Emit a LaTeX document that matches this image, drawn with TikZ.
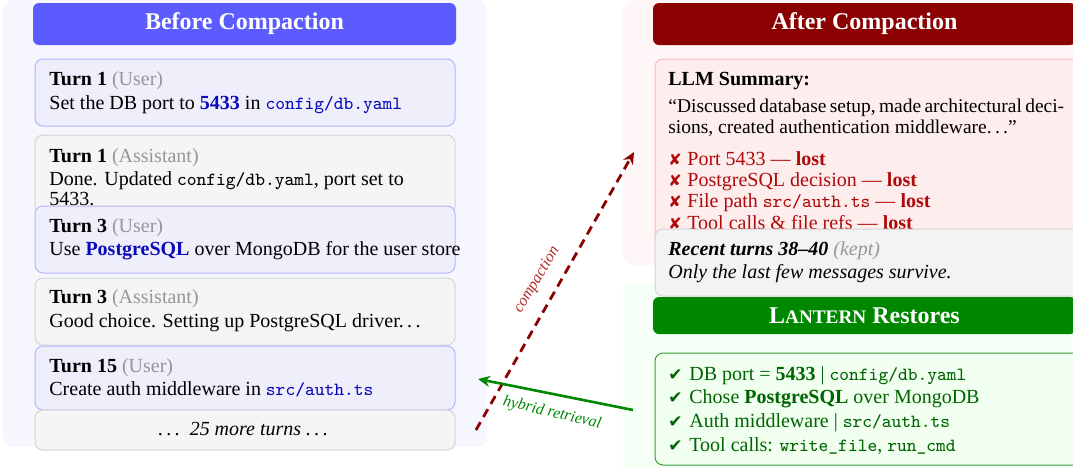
\documentclass[tikz,border=0pt]{standalone}
\usepackage{fontspec}
\setmainfont{Liberation Serif}
\newfontfamily\symfont{DejaVu Sans}
\usetikzlibrary{arrows.meta}
\definecolor{panelL}{RGB}{246,246,255}
\definecolor{hdrblue}{RGB}{91,91,255}
\definecolor{userfill}{RGB}{239,239,252}
\definecolor{userdraw}{RGB}{180,180,255}
\definecolor{asstfill}{RGB}{245,245,245}
\definecolor{asstdraw}{RGB}{212,212,212}
\definecolor{hlc}{RGB}{10,10,185}
\definecolor{lbl}{RGB}{150,150,150}
\definecolor{panelR}{RGB}{255,247,247}
\definecolor{hdrred}{RGB}{139,0,0}
\definecolor{sumfill}{RGB}{253,237,237}
\definecolor{sumdraw}{RGB}{255,185,185}
\definecolor{lostred}{RGB}{175,10,10}
\definecolor{recfill}{RGB}{243,243,243}
\definecolor{panelG}{RGB}{246,255,246}
\definecolor{hdrgreen}{RGB}{0,135,0}
\definecolor{resfill}{RGB}{240,255,240}
\definecolor{resdraw}{RGB}{60,160,60}
\definecolor{restext}{RGB}{0,100,0}
\definecolor{arrred}{RGB}{139,0,0}
\definecolor{lblred}{RGB}{180,40,40}
\definecolor{arrgreen}{RGB}{0,135,0}
\newcommand\code[1]{{\ttfamily\fontsize{9.3}{12}\selectfont #1}}
\newcommand\chk{\makebox[8pt][l]{\symfont\fontsize{8.5}{12}\selectfont ✔}}
\newcommand\crs{\makebox[7pt][l]{\symfont\fontsize{8}{12}\selectfont ✘}}
\newcommand\dts{.\kern.17em.\kern.17em.}
\begin{document}
\begin{tikzpicture}[x=0.5pt,y=-0.5pt,
  panel/.style={rounded corners=5pt},
  box/.style={rounded corners=4pt, line width=0.5pt},
  hdr/.style={rounded corners=3pt, text=white, font=\large\bfseries, inner sep=0pt, minimum width=211.5pt},
  txt/.style={anchor=base west, inner sep=0pt},
  arrlbl/.style={font=\footnotesize\itshape, inner sep=0pt}]
\clip (0,0) rectangle (1073,467);
% panels
\fill[panelL, panel] (3,0) rectangle (487,447);
\fill[panelR, panel] (623,0) rectangle (1090,265);
\fill[panelG, panel] (623,283) rectangle (1090,490);
% ---- Before ----
\node[hdr, fill=hdrblue, minimum height=21pt] (hb) at (244.5,24) {Before Compaction};
\draw[box, fill=userfill, draw=userdraw] (35,59) rectangle (455,126);
\node[txt] (t1u) at (49,85) {\textbf{Turn 1} \textcolor{lbl}{(User)}};
\node[txt] (t1ub) at (49,109) {Set the DB port to \textcolor{hlc}{\textbf{5433}} in \textcolor{hlc}{\code{config/db.yaml}}};
\draw[box, fill=asstfill, draw=asstdraw] (35,135) rectangle (455,215);
\node[txt] (t1a) at (49,162) {\textbf{Turn 1} \textcolor{lbl}{(Assistant)}};
\node[txt] (t1ab) at (49,185) {Done. Updated \code{config/db.yaml}, port set to};
\node[txt] (t1ac) at (49,205) {5433.};
\draw[box, fill=userfill, draw=userdraw] (35,206) rectangle (455,273);
\node[txt] (t3u) at (49,232) {\textbf{Turn 3} \textcolor{lbl}{(User)}};
\node[txt] (t3ub) at (49,255) {Use \textcolor{hlc}{\textbf{PostgreSQL}} over MongoDB for the user store};
\draw[box, fill=asstfill, draw=asstdraw] (35,278) rectangle (455,345);
\node[txt] (t3a) at (49,303) {\textbf{Turn 3} \textcolor{lbl}{(Assistant)}};
\node[txt] (t3ab) at (49,327) {Good choice. Setting up PostgreSQL driver\dts};
\draw[box, fill=userfill, draw=userdraw] (35,346) rectangle (455,410);
\node[txt] (t15u) at (49,372) {\textbf{Turn 15} \textcolor{lbl}{(User)}};
\node[txt] (t15ub) at (49,395) {Create auth middleware in \textcolor{hlc}{\code{src/auth.ts}}};
\draw[box, fill=asstfill, draw=asstdraw] (35,410) rectangle (455,450);
\node[anchor=base, inner sep=0pt] (more) at (243,435) {\dts\ \ \textit{25 more turns \dts}};
% ---- After ----
\node[hdr, fill=hdrred, minimum height=21pt] (ha) at (864.5,24) {After Compaction};
\draw[box, fill=sumfill, draw=sumdraw] (655,59) rectangle (1085,245);
\node[txt] (sumt) at (668,85) {\textbf{LLM Summary:}};
\node[txt] (q1) at (668,112) {\hbox to 196pt{\fontsize{9.75}{12}\selectfont ``Discussed\hfil\ database\hfil\ setup,\hfil\ made\hfil\ architectural\hfil\ deci-}};
\node[txt] (q2) at (668,133) {\fontsize{9.75}{12}\selectfont sions, created authentication middleware\dts''};
\node[txt, text=lostred] (l1) at (668,165) {\crs\ Port 5433 --- \textbf{lost}};
\node[txt, text=lostred] (l2) at (668,186) {\crs\ PostgreSQL decision --- \textbf{lost}};
\node[txt, text=lostred] (l3) at (668,207) {\crs\ File path \code{src/auth.ts} --- \textbf{lost}};
\node[txt, text=lostred] (l4) at (668,229) {\crs\ Tool calls \& file refs --- \textbf{lost}};
\draw[box, fill=recfill, draw=asstdraw] (655,229) rectangle (1085,296);
\node[txt] (r1) at (668,255) {\textbf{\textit{Recent turns 38--40}} \textcolor{lbl}{\textit{(kept)}}};
\node[txt] (r2) at (668,278) {\textit{Only the last few messages survive.}};
% ---- Lantern ----
\node[hdr, fill=hdrgreen, minimum height=18.5pt] (hl) at (864.5,315.5) {L{\fontsize{9.6}{12}\selectfont ANTERN} Restores};
\draw[box, fill=resfill, draw=resdraw] (655,353) rectangle (1085,465);
\node[txt, text=restext] (g1) at (668,380) {\chk\ DB port = \textbf{5433} | \code{config/db.yaml}};
\node[txt, text=restext] (g2) at (668,403) {\chk\ Chose \textbf{PostgreSQL} over MongoDB};
\node[txt, text=restext] (g3) at (668,427) {\chk\ Auth middleware | \code{src/auth.ts}};
\node[txt, text=restext] (g4) at (668,451) {\chk\ Tool calls: \code{write\_file}, \code{run\_cmd}};
% ---- arrows ----
\coordinate (cs) at (476,430);
\coordinate (ce) at (634,152);
\draw[arrred, line width=1.4pt, dash pattern=on 4.5pt off 3pt, -{Stealth[length=6pt,width=5.5pt]}] (cs) -- (ce);
\node[arrlbl, text=lblred, rotate=59] (clbl) at (537,280) {compaction};
\coordinate (gs) at (633,410);
\coordinate (ge) at (478,379);
\draw[arrgreen, line width=1.3pt, -{Stealth[length=6pt,width=5.5pt]}] (gs) -- (ge);
\node[arrlbl, text=arrgreen, rotate=-13] (glbl) at (552,413) {hybrid retrieval};
\end{tikzpicture}
\end{document}
